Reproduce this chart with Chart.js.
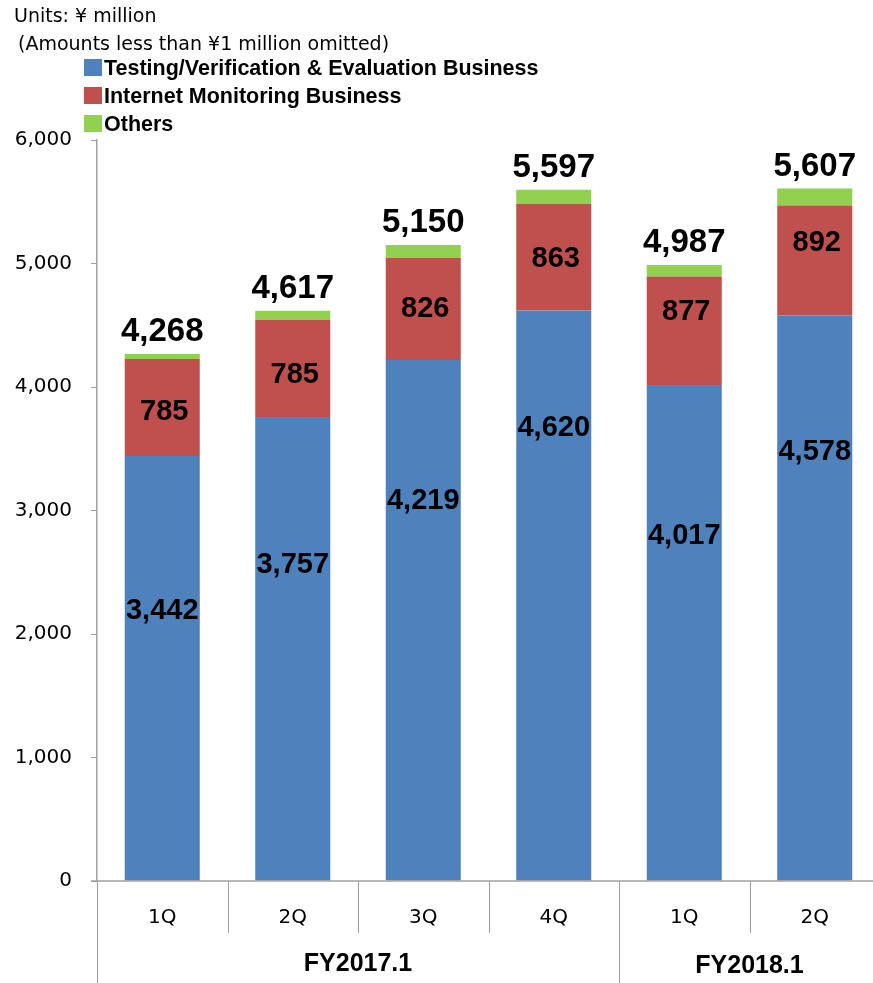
<!DOCTYPE html>
<html>
<head>
<meta charset="utf-8">
<script src="https://cdn.jsdelivr.net/npm/chart.js@4/dist/chart.umd.min.js"></script>
<style>
  html, body { margin:0; padding:0; background:#fff; overflow:hidden; }
  #wrap { width:890px; height:983px; }
</style>
</head>
<body>
<div id="wrap"><canvas id="salesChart" width="890" height="983"></canvas></div>
<script>
// quarterly net sales by segment (¥ million)
const quarters = ['1Q', '2Q', '3Q', '4Q', '1Q', '2Q'];
const fiscalYears = ['FY2017.1', 'FY2018.1'];
const fiscalYearSpan = [4, 2]; // number of quarters under each fiscal year
const testing = [3442, 3757, 4219, 4620, 4017, 4578];
const monitoring = [785, 785, 826, 863, 877, 892];
const others = [41, 75, 105, 114, 93, 137];
const totals = [4268, 4617, 5150, 5597, 4987, 5607];
const yTicks = [0, 1000, 2000, 3000, 4000, 5000, 6000];

// where the segment value labels sit, in axis units
const testingLabelAt = [2190, 2560, 3080, 3670, 2790, 3470];
const monitoringLabelAt = [3800, 4100, 4630, 5040, 4610, 5170];

const COLORS = { testing: '#4F81BD', monitoring: '#C0504D', others: '#92D050' };
const AXIS = '#a0a0a0';

function fmt(v){ return v.toLocaleString('en-US'); }

const labelsPlugin = {
  id: 'segmentLabels',
  afterDatasetsDraw(chart){
    const ctx = chart.ctx, x = chart.scales.x, y = chart.scales.y;
    ctx.save();
    ctx.fillStyle = '#000';
    ctx.textAlign = 'center';
    ctx.textBaseline = 'middle';
    ctx.font = 'bold 29px "Liberation Sans", Arial, sans-serif';
    for (let i = 0; i < quarters.length; i++){
      const cx = x.getPixelForValue(i);
      ctx.fillText(fmt(testing[i]), cx, y.getPixelForValue(testingLabelAt[i]));
      ctx.fillText(fmt(monitoring[i]), cx + 2, y.getPixelForValue(monitoringLabelAt[i]));
    }
    ctx.font = 'bold 33px "Liberation Sans", Arial, sans-serif';
    ctx.textBaseline = 'alphabetic';
    for (let i = 0; i < quarters.length; i++){
      const cx = x.getPixelForValue(i);
      ctx.fillText(fmt(totals[i]), cx, y.getPixelForValue(totals[i]) - 13);
    }
    ctx.restore();
  },
  afterDraw(chart){
    const ctx = chart.ctx, x = chart.scales.x, area = chart.chartArea;
    ctx.save();

    // units note
    ctx.fillStyle = '#000';
    ctx.textAlign = 'left';
    ctx.textBaseline = 'middle';
    ctx.font = '19px "DejaVu Sans", sans-serif';
    ctx.fillText('Units: ¥ million', 14, 17);
    ctx.fillText('(Amounts less than ¥1 million omitted)', 18, 45);

    // legend
    const items = chart.data.datasets;
    ctx.font = 'bold 21.5px "Liberation Sans", Arial, sans-serif';
    items.forEach((ds, k) => {
      const cy = 68 + k * 28;
      ctx.fillStyle = ds.backgroundColor;
      ctx.fillRect(84, cy - 9, 18, 17);
      ctx.fillStyle = '#000';
      ctx.fillText(ds.label, 104, cy + 1);
    });

    // category axis: baseline, dividers, quarter and fiscal year labels
    const n = quarters.length;
    const w = (area.right - area.left) / n;
    ctx.strokeStyle = AXIS;
    ctx.lineWidth = 1.5;
    ctx.beginPath();
    ctx.moveTo(area.left - 6, area.bottom);
    ctx.lineTo(area.right, area.bottom);
    ctx.stroke();

    const groupEdges = [0];
    fiscalYearSpan.forEach(s => groupEdges.push(groupEdges[groupEdges.length - 1] + s));
    ctx.lineWidth = 1;
    for (let i = 0; i <= n; i++){
      const bx = Math.round(area.left + i * w) + 0.5;
      const full = groupEdges.includes(i);
      ctx.beginPath();
      ctx.moveTo(bx, area.bottom);
      ctx.lineTo(bx, full ? chart.height : area.bottom + 52);
      ctx.stroke();
    }

    ctx.fillStyle = '#000';
    ctx.textAlign = 'center';
    ctx.font = '20px "DejaVu Sans", sans-serif';
    for (let i = 0; i < n; i++){
      ctx.fillText(quarters[i], x.getPixelForValue(i), area.bottom + 37);
    }
    ctx.font = 'bold 25px "Liberation Sans", Arial, sans-serif';
    fiscalYears.forEach((fy, g) => {
      const mid = area.left + (groupEdges[g] + groupEdges[g + 1]) / 2 * w;
      ctx.fillText(fy, mid, area.bottom + 83 + g * 2);
    });
    ctx.restore();
  }
};

new Chart(document.getElementById('salesChart'), {
  type: 'bar',
  data: {
    labels: quarters,
    datasets: [
      { label: 'Testing/Verification & Evaluation Business', data: testing, backgroundColor: COLORS.testing },
      { label: 'Internet Monitoring Business', data: monitoring, backgroundColor: COLORS.monitoring },
      { label: 'Others', data: others, backgroundColor: COLORS.others }
    ]
  },
  options: {
    responsive: false,
    animation: false,
    datasets: { bar: { categoryPercentage: 1, barPercentage: 0.575, borderWidth: 0 } },
    layout: { padding: { top: 140, right: 10, bottom: 102, left: 0 } },
    plugins: { legend: { display: false }, tooltip: { enabled: false } },
    scales: {
      x: { stacked: true, display: false },
      y: {
        stacked: true,
        min: 0, max: 6000,
        afterFit(scale){ scale.width = 97; },
        afterBuildTicks(scale){ scale.ticks = yTicks.map(v => ({ value: v })); },
        border: { display: true, color: AXIS, width: 1.5 },
        grid: { drawOnChartArea: false, drawTicks: true, tickLength: 6, color: AXIS },
        ticks: {
          padding: 19,
          color: '#000',
          font: { family: '"DejaVu Sans", sans-serif', size: 20 },
          callback: v => fmt(v)
        }
      }
    }
  },
  plugins: [labelsPlugin]
});
</script>
</body>
</html>
